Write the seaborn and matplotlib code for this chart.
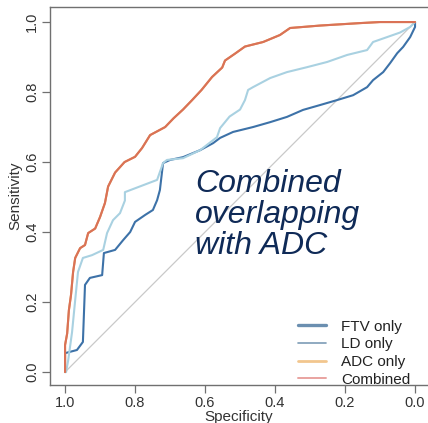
import pandas as pd
import seaborn as sns
import matplotlib.pyplot as plt
from matplotlib.lines import Line2D

# ---------- ROC curve points (specificity, sensitivity) ----------
ftv_spec = [1.0, 1.0, 0.966, 0.949, 0.943, 0.929, 0.894, 0.889, 0.857, 0.834, 0.814, 0.80,
            0.771, 0.749, 0.737, 0.729, 0.72, 0.70, 0.663, 0.614, 0.577, 0.557, 0.52, 0.463,
            0.414, 0.366, 0.32, 0.271, 0.223, 0.177, 0.137, 0.12, 0.091, 0.071, 0.051, 0.034,
            0.014, 0.0, 0.0]
ftv_sens = [0.0, 0.054, 0.063, 0.086, 0.249, 0.269, 0.277, 0.34, 0.349, 0.377, 0.40, 0.429,
            0.449, 0.463, 0.491, 0.52, 0.597, 0.606, 0.614, 0.634, 0.654, 0.669, 0.686, 0.70,
            0.714, 0.729, 0.749, 0.763, 0.777, 0.791, 0.814, 0.834, 0.857, 0.883, 0.911, 0.929,
            0.957, 0.986, 1.0]

ld_spec = [1.0, 0.997, 0.991, 0.98, 0.971, 0.963, 0.949, 0.923, 0.891, 0.88, 0.863, 0.843,
           0.829, 0.829, 0.737, 0.72, 0.709, 0.663, 0.614, 0.566, 0.557, 0.53, 0.5, 0.486,
           0.477, 0.463, 0.414, 0.366, 0.309, 0.251, 0.194, 0.137, 0.12, 0.08, 0.043, 0.014, 0.0]
ld_sens = [0.0, 0.0, 0.034, 0.114, 0.206, 0.286, 0.326, 0.334, 0.349, 0.397, 0.434, 0.454,
           0.49, 0.514, 0.549, 0.597, 0.606, 0.611, 0.634, 0.671, 0.697, 0.73, 0.75, 0.777,
           0.806, 0.814, 0.84, 0.857, 0.871, 0.886, 0.906, 0.92, 0.943, 0.957, 0.97, 0.986, 1.0]

# ADC only and Combined lie on top of each other
adc_spec = [1.0, 1.0, 0.994, 0.989, 0.983, 0.977, 0.971, 0.957, 0.943, 0.934, 0.914, 0.9,
            0.886, 0.877, 0.857, 0.83, 0.80, 0.78, 0.757, 0.714, 0.69, 0.663, 0.637, 0.61,
            0.58, 0.551, 0.543, 0.514, 0.486, 0.434, 0.386, 0.357, 0.271, 0.157, 0.1, 0.0]
adc_sens = [0.0, 0.077, 0.11, 0.177, 0.22, 0.286, 0.326, 0.354, 0.363, 0.397, 0.41, 0.443,
            0.483, 0.53, 0.57, 0.60, 0.615, 0.64, 0.677, 0.70, 0.725, 0.75, 0.777, 0.806,
            0.843, 0.87, 0.89, 0.91, 0.93, 0.943, 0.963, 0.983, 0.99, 0.997, 1.0, 1.0]
comb_spec = adc_spec
comb_sens = adc_sens

labels = ["FTV only", "LD only", "ADC only", "Combined"]
line_colors = ["#3d72a8", "#a9d1e1", "#e3a063", "#da7256"]
legend_colors = ["#6b8fb0", "#7d9cb6", "#f2c68e", "#e9a3a0"]
legend_widths = [2.4, 1.2, 2.0, 1.4]

frames = []
for name, sp, se in zip(labels, [ftv_spec, ld_spec, adc_spec, comb_spec],
                        [ftv_sens, ld_sens, adc_sens, comb_sens]):
    frames.append(pd.DataFrame({"Specificity": sp, "Sensitivity": se, "curve": name}))
df = pd.concat(frames, ignore_index=True)

sns.set_style("white")
plt.rcParams["font.family"] = ["Liberation Sans", "DejaVu Sans"]

fig = plt.figure(figsize=(4.28, 4.23), dpi=100)
ax = fig.add_axes([50 / 428, 1 - 385 / 423, 1 - 50 / 428, 378 / 423])

# diagonal reference
ax.plot([1, 0], [0, 1], color="#c9c9c9", lw=0.9, zorder=1)

for name, col in zip(labels, line_colors):
    sns.lineplot(data=df[df["curve"] == name], x="Specificity", y="Sensitivity",
                 sort=False, estimator=None, color=col, lw=1.5, ax=ax, legend=False,
                 zorder=3)

ax.set_xlim(1.043, -0.037)
ax.set_ylim(-0.037, 1.043)
ticks = [1.0, 0.8, 0.6, 0.4, 0.2, 0.0]
ax.set_xticks(ticks)
ax.set_yticks(ticks)
ax.set_xticklabels([f"{t:.1f}" for t in ticks])
ax.set_yticklabels([f"{t:.1f}" for t in ticks], rotation=90, va="center")
ax.tick_params(axis="both", direction="out", length=6, width=0.9, color="#707070",
               labelsize=10.5, labelcolor="#333333", pad=2)
ax.tick_params(axis="both", bottom=True, left=True)

for side in ["left", "bottom", "top"]:
    ax.spines[side].set_color("#707070")
    ax.spines[side].set_linewidth(1.0)
ax.spines["right"].set_visible(False)

ax.set_xlabel("Specificity", fontsize=11, color="#333333", labelpad=0)
ax.set_ylabel("Sensitivity", fontsize=11, color="#333333", labelpad=2)

ax.text(0.629, 0.58, "Combined\noverlapping\nwith ADC", fontsize=23, style="italic",
        color="#0f2a57", ha="left", va="top", linespacing=1.05, zorder=5)

handles = [Line2D([0], [0], color=c, lw=w) for c, w in zip(legend_colors, legend_widths)]
ax.legend(handles, labels, loc="upper left", bbox_to_anchor=(290 / 428, 1 - 312 / 423),
          bbox_transform=fig.transFigure, frameon=False, fontsize=11, borderpad=0,
          handlelength=1.85, handletextpad=1.0, labelspacing=0.24, labelcolor="#222222")

fig.savefig("out.png", dpi=100)
